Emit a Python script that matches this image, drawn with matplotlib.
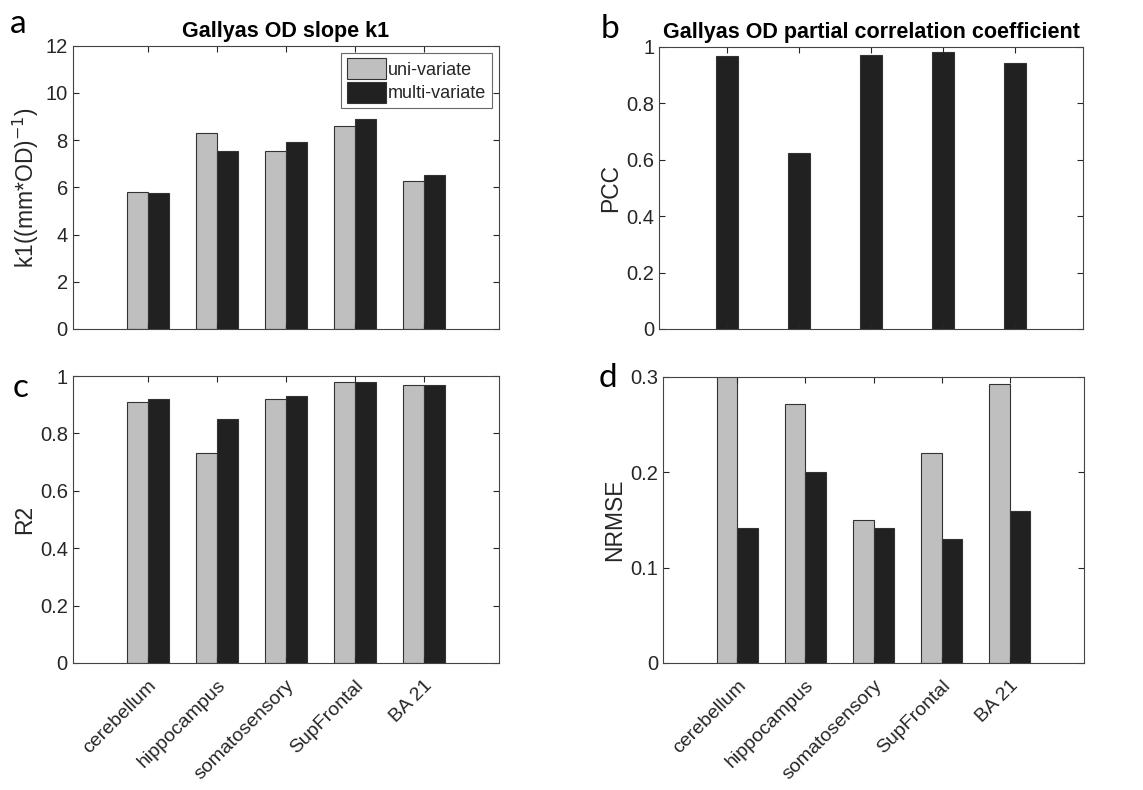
import numpy as np
import matplotlib
matplotlib.use("Agg")
import matplotlib.pyplot as plt
from matplotlib.ticker import FuncFormatter

regions = ["cerebellum", "hippocampus", "somatosensory", "SupFrontal", "BA 21"]
series_names = ["uni-variate", "multi-variate"]

k1_uni = [5.80, 8.29, 7.52, 8.60, 6.25]
k1_multi = [5.74, 7.52, 7.93, 8.89, 6.52]
pcc_multi = [0.967, 0.625, 0.972, 0.982, 0.941]
r2_uni = [0.911, 0.730, 0.921, 0.980, 0.968]
r2_multi = [0.921, 0.849, 0.932, 0.980, 0.968]
nrmse_uni = [0.31, 0.271, 0.150, 0.220, 0.292]
nrmse_multi = [0.141, 0.200, 0.141, 0.130, 0.159]

UNI = "#bfbfbf"
MULTI = "#212121"
EDGE = "#333333"
TXT = "#262626"

plt.rcParams["font.family"] = ["Liberation Sans", "DejaVu Sans"]

fig = plt.figure(figsize=(11.43, 7.90), dpi=100)


def px_axes(left, top, right, bottom):
    W, H = 1143, 790
    return fig.add_axes([left / W, 1 - bottom / H, (right - left) / W, (bottom - top) / H])


def style(ax, ymax, yticks, ylabel, xlim):
    ax.set_xlim(*xlim)
    ax.set_ylim(0, ymax)
    ax.set_yticks(yticks)
    ax.yaxis.set_major_formatter(FuncFormatter(lambda v, p: f"{v:g}"))
    ax.set_xticks(np.arange(1, 6))
    ax.tick_params(direction="in", top=True, right=True, length=4, width=0.8,
                   colors=TXT, labelsize=14.5, labelcolor=TXT)
    ax.tick_params(axis="x", pad=10)
    for s in ax.spines.values():
        s.set_color("#444444")
        s.set_linewidth(0.8)
    ax.set_ylabel(ylabel, fontsize=16.5, color=TXT, labelpad=3)


def grouped(ax, uni, multi):
    x = np.arange(1, len(regions) + 1)
    w = 0.3
    ax.bar(x - w / 2, uni, w, color=UNI, edgecolor=EDGE, linewidth=0.8, label=series_names[0])
    ax.bar(x + w / 2, multi, w, color=MULTI, edgecolor=EDGE, linewidth=0.8, label=series_names[1])


def xlabels(ax, show):
    if show:
        ax.set_xticklabels(regions, rotation=45, ha="right", rotation_mode="anchor",
                           fontsize=14, color=TXT)
    else:
        ax.set_xticklabels([])


wide = (-0.09, 6.09)

# a
ax_a = px_axes(72.7, 45.7, 499, 329)
grouped(ax_a, k1_uni, k1_multi)
style(ax_a, 12, np.arange(0, 13, 2), r"k1((mm*OD)$^{-1}$)", wide)
xlabels(ax_a, False)
ax_a.set_title("Gallyas OD slope k1", fontsize=15.5, fontweight="bold", color="black", pad=6)
leg = ax_a.legend(loc="upper right", fontsize=13, frameon=True, fancybox=False,
                  edgecolor="#444444", handlelength=2.2, handleheight=1.4,
                  borderpad=0.3, labelspacing=0.15, handletextpad=0.1,
                  borderaxespad=0.4)
leg.get_frame().set_linewidth(0.8)
for t in leg.get_texts():
    t.set_color(TXT)

# b
ax_b = px_axes(659.3, 46.7, 1083, 329)
xb = np.arange(1, len(regions) + 1)
ax_b.bar(xb, pcc_multi, 0.3, color=MULTI, edgecolor=EDGE, linewidth=0.8)
style(ax_b, 1, np.arange(0, 1.01, 0.2), "PCC", (0.06, 5.94))
xlabels(ax_b, False)
ax_b.set_title("Gallyas OD partial correlation coefficient", fontsize=15.5, fontweight="bold",
               color="black", pad=6)

# c
ax_c = px_axes(72.7, 376, 499, 663)
grouped(ax_c, r2_uni, r2_multi)
style(ax_c, 1, np.arange(0, 1.01, 0.2), "R2", wide)
xlabels(ax_c, True)

# d
ax_d = px_axes(663.3, 376.7, 1083.7, 663)
grouped(ax_d, nrmse_uni, nrmse_multi)
style(ax_d, 0.3, [0, 0.1, 0.2, 0.3], "NRMSE", wide)
xlabels(ax_d, True)

# panel letters
for lab, (x, y) in zip("abcd", [(10, 9), (601, 14), (13, 373), (599, 363)]):
    fig.text(x / 1143, 1 - y / 790, lab, fontsize=24, family=["Lato", "DejaVu Sans"],
             ha="left", va="top", color="black")

fig.savefig("out.png", dpi=100)
